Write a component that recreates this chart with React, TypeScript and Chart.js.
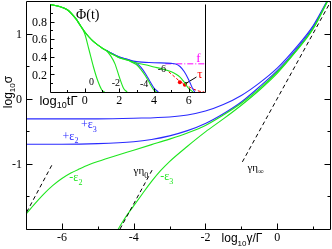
import { useEffect, useRef } from 'react';
import { Chart, registerables } from 'chart.js';

Chart.register(...registerables);

// ================= main panel: log10 σ versus log10 γ/Γ =================
const mainXMajor = [-6, -4, -2, 0];
const mainXLabels = ['-6', '-4', '-2', '0'];
const mainXMinor = [-7, -5, -3, -1, 1];
const mainYMajor = [-1, 0, 1];
const mainYLabels = ['-1', '0', '1'];
const mainYMinor = [-1.5, -0.5, 0.5];

const plusEps3X = [-7, -6, -5, -4, -3, -2.5, -2, -1.5, -1, -0.5, 0, 0.5, 1.0, 1.39];
const plusEps3Y = [-0.31, -0.31, -0.31, -0.3, -0.28, -0.25, -0.19, -0.09, 0.05, 0.24, 0.47, 0.77, 1.12, 1.5];

const plusEps2X = [-7, -6, -5, -4, -3.5, -3, -2.5, -2, -1.5, -1, -0.5, 0, 0.5, 1, 1.4];
const plusEps2Y = [-0.7, -0.7, -0.69, -0.66, -0.625, -0.57, -0.49, -0.38, -0.23, -0.05, 0.18, 0.43, 0.74, 1.1, 1.5];

const minusEps2X = [-7, -6.75, -6.5, -6.25, -6, -5.75, -5.5, -5.25, -5, -4.5, -4, -3.5, -3, -2.5, -2, -1.5, -1, -0.5, 0, 0.5, 1, 1.4];
const minusEps2Y = [-1.77, -1.61, -1.46, -1.33, -1.225, -1.14, -1.075, -1.015, -0.965, -0.875, -0.79, -0.705, -0.62, -0.525, -0.41, -0.25, -0.07, 0.15, 0.41, 0.72, 1.08, 1.5];

const minusEps3X = [-4.45, -4.25, -4, -3.75, -3.5, -3.25, -3, -2.5, -2, -1.5, -1, -0.5, 0, 0.5, 1, 1.41];
const minusEps3Y = [-2.02, -1.84, -1.645, -1.455, -1.27, -1.105, -0.965, -0.73, -0.51, -0.31, -0.1, 0.13, 0.39, 0.71, 1.07, 1.5];

const eta0LowX = [-6.98, -6.28];
const eta0LowY = [-1.74, -1.02];
const eta0X = [-4.38, -3.47];
const eta0Y = [-2.0, -1.08];
const etaInfX = [-0.97, 1.5];
const etaInfY = [-0.97, 1.5];

// ================= inset: Φ(t) versus log10 tΓ =================
const inXMajor = [0, 2, 4, 6];
const inXLabels = ['0', '2', '4', '6'];
const inXMinor = [-1, 1, 3, 5];
const inYMajor = [0.2, 0.4, 0.6, 0.8];
const inYLabels = ['0.2', '0.4', '0.6', '0.8'];
const inYMinor = [0.1, 0.3, 0.5, 0.7, 0.9];

const trunkX = [-2, -1.5, -1, -0.5, -0.25, 0, 0.25, 0.5, 0.75, 1, 1.25, 1.5, 1.75, 2, 2.5];
const trunkY = [0.995, 0.975, 0.935, 0.83, 0.755, 0.685, 0.625, 0.575, 0.535, 0.5, 0.47, 0.44, 0.415, 0.39, 0.36];

const g0TailX = [0, 0.25, 0.5, 0.75, 1.0, 1.15];
const g0TailY = [0.665, 0.48, 0.29, 0.13, 0.02, 0];
const g2TailX = [1.5, 1.75, 2.0, 2.25, 2.45];
const g2TailY = [0.41, 0.32, 0.17, 0.04, 0];
const g4TailX = [2.75, 3.0, 3.25, 3.5, 3.75, 4.0, 4.15];
const g4TailY = [0.335, 0.31, 0.255, 0.185, 0.1, 0.02, 0];
const g6TailX = [3.0, 3.5, 4, 4.5, 5, 5.25, 5.5, 5.75, 6.0, 6.25];
const g6TailY = [0.33, 0.31, 0.285, 0.26, 0.23, 0.205, 0.17, 0.11, 0.04, 0];

const b4X = [1.25, 1.5, 1.75, 2, 2.5, 2.75, 3, 3.25, 3.5, 3.75, 4, 4.25];
const b4Y = [0.475, 0.445, 0.42, 0.398, 0.368, 0.345, 0.325, 0.28, 0.21, 0.125, 0.045, 0];
const b6X = [1.25, 1.5, 1.75, 2, 2.5, 3, 4, 5, 5.25, 5.5, 5.75, 6, 6.25, 6.35];
const b6Y = [0.475, 0.445, 0.42, 0.398, 0.368, 0.345, 0.333, 0.325, 0.317, 0.29, 0.23, 0.14, 0.03, 0];

const fX = [4.65, 7];
const fY = [0.32, 0.32];
const tauLineX = [4.85, 5.2, 5.5, 5.8, 6.2, 6.6, 6.9];
const tauLineY = [0.23, 0.17, 0.12, 0.085, 0.04, 0.01, 0];
const tauPtsX = [5.49, 5.78];
const tauPtsY = [0.11, 0.082];
const arrowX = [6.45, 5.82];
const arrowY = [0.17, 0.095];

// ================= styling =================
const W = 332;
const H = 249;
const BLUE = '#2a2aff';
const GREEN = '#1ee61e';
const LW = 1.1;
const SERIF = '"Liberation Serif", "DejaVu Serif", serif';
const SANS = '"Liberation Sans", Arial, sans-serif';

type Part = [string, number];
type Note = { parts: Part[]; x: number; y: number; color: string; size: number; family: string };

const mainNotes: Note[] = [
  { parts: [['+ε', 0], ['3', 1]], x: -5.25, y: -0.385, color: BLUE, size: 12, family: SERIF },
  { parts: [['+ε', 0], ['2', 1]], x: -5.76, y: -0.565, color: BLUE, size: 12, family: SERIF },
  { parts: [['-ε', 0], ['2', 1]], x: -5.61, y: -1.2, color: GREEN, size: 12, family: SERIF },
  { parts: [['-ε', 0], ['3', 1]], x: -3.08, y: -1.19, color: GREEN, size: 12, family: SERIF },
  { parts: [['γη', 0], ['0', 1]], x: -3.8, y: -1.1, color: '#000', size: 11, family: SERIF },
  { parts: [['γη', 0], ['∞', 1]], x: -0.6, y: -1.05, color: '#000', size: 11, family: SERIF },
];

const insetNotes: Note[] = [
  { parts: [['0', 0]], x: 0.39, y: 0.115, color: '#000', size: 10, family: SERIF },
  { parts: [['-2', 0]], x: 1.8, y: 0.11, color: '#000', size: 10, family: SERIF },
  { parts: [['-4', 0]], x: 3.43, y: 0.1, color: '#000', size: 10, family: SERIF },
  { parts: [['-6', 0]], x: 4.45, y: 0.265, color: '#000', size: 10, family: SERIF },
  { parts: [['f', 0]], x: 6.56, y: 0.39, color: '#ff00ff', size: 13, family: SERIF },
  { parts: [['τ', 0]], x: 6.65, y: 0.21, color: '#ff0000', size: 13, family: SERIF },
  { parts: [['Φ(t)', 0]], x: 0.18, y: 0.88, color: '#000', size: 14, family: SERIF },
];

const pts = (xs: number[], ys: number[]) => xs.map((x, i) => ({ x, y: ys[i] }));
const withTrunk = (upTo: number, tx: number[], ty: number[]) =>
  pts(trunkX, trunkY).filter((p) => p.x <= upTo).concat(pts(tx, ty));

function drawRich(ctx: CanvasRenderingContext2D, parts: Part[], x: number, cy: number, size: number, family: string, color: string, align: string) {
  const sub = Math.round(size * 0.7);
  const widths = parts.map(([t, s]) => {
    ctx.font = `${s ? sub : size}px ${family}`;
    return ctx.measureText(t).width;
  });
  const total = widths.reduce((a, b) => a + b, 0);
  let cx = align === 'left' ? x : align === 'right' ? x - total : x - total / 2;
  const base = cy + size * 0.35;
  ctx.fillStyle = color;
  ctx.textAlign = 'left';
  ctx.textBaseline = 'alphabetic';
  parts.forEach(([t, s], i) => {
    ctx.font = `${s ? sub : size}px ${family}`;
    ctx.fillText(t, cx, s ? base + size * 0.3 : base);
    cx += widths[i];
  });
}

function line(data: { x: number; y: number }[], color: string, width: number, dash: number[] = [], smooth = true) {
  return {
    data,
    showLine: true,
    borderColor: color,
    backgroundColor: color,
    borderWidth: width,
    borderDash: dash,
    pointRadius: 0,
    fill: false,
    tension: 0,
    cubicInterpolationMode: smooth ? 'monotone' : 'default',
  } as any;
}

function seg(ctx: CanvasRenderingContext2D, x1: number, y1: number, x2: number, y2: number) {
  ctx.beginPath();
  ctx.moveTo(x1, y1);
  ctx.lineTo(x2, y2);
  ctx.stroke();
}

const mainDecor = {
  id: 'mainDecor',
  afterDraw(chart: any) {
    const { ctx, chartArea: a, scales } = chart;
    const xs = scales.x;
    const ys = scales.y;
    const L = a.left + 0.5, R = a.right - 0.5, T = a.top + 0.5, B = a.bottom + 0.5;
    ctx.save();
    ctx.strokeStyle = '#000';
    ctx.lineWidth = 1;
    ctx.setLineDash([]);
    seg(ctx, L, T, R, T);
    seg(ctx, R, T, R, B);
    seg(ctx, L, B, R, B);
    seg(ctx, L, T, L, B);
    const yTick = (v: number, len: number) => {
      const p = Math.round(ys.getPixelForValue(v)) + 0.5;
      seg(ctx, L, p, L + len, p);
      seg(ctx, R, p, R - len, p);
    };
    const xTick = (v: number, len: number) => {
      const p = Math.round(xs.getPixelForValue(v)) + 0.5;
      seg(ctx, p, B, p, B - len);
    };
    mainYMajor.forEach((v) => yTick(v, 6));
    mainYMinor.forEach((v) => yTick(v, 3));
    mainXMajor.forEach((v) => xTick(v, 6));
    mainXMinor.forEach((v) => xTick(v, 3));
    mainYMajor.forEach((v, i) => drawRich(ctx, [[mainYLabels[i], 0]], a.left - 4, ys.getPixelForValue(v), 12, SERIF, '#000', 'right'));
    mainXMajor.forEach((v, i) => drawRich(ctx, [[mainXLabels[i], 0]], xs.getPixelForValue(v), a.bottom + 8, 12, SERIF, '#000', 'center'));
    drawRich(ctx, [['log', 0], ['10', 1], ['γ/Γ', 0]], 242, 238, 12, SANS, '#000', 'center');
    ctx.save();
    ctx.translate(7.5, 92);
    ctx.rotate(-Math.PI / 2);
    drawRich(ctx, [['log', 0], ['10', 1], ['σ', 0]], 0, 0, 12, SANS, '#000', 'center');
    ctx.restore();
    mainNotes.forEach((n) => drawRich(ctx, n.parts, xs.getPixelForValue(n.x), ys.getPixelForValue(n.y), n.size, n.family, n.color, 'center'));
    ctx.restore();
  },
};

const insetDecor = {
  id: 'insetDecor',
  beforeDatasetsDraw(chart: any) {
    const { ctx, chartArea: a } = chart;
    ctx.save();
    ctx.fillStyle = '#fff';
    ctx.fillRect(a.left, a.top, a.right - a.left, a.bottom - a.top);
    ctx.restore();
  },
  afterDraw(chart: any) {
    const { ctx, chartArea: a, scales } = chart;
    const xs = scales.x;
    const ys = scales.y;
    const L = a.left + 0.5, R = a.right - 0.5, T = a.top + 0.5, B = a.bottom + 0.5;
    ctx.save();
    ctx.strokeStyle = '#000';
    ctx.lineWidth = 1;
    ctx.setLineDash([]);
    seg(ctx, L, T, L, B);
    seg(ctx, L, B, R, B);
    seg(ctx, R, T, R, B);
    const yTick = (v: number, len: number) => {
      const p = Math.round(ys.getPixelForValue(v)) + 0.5;
      seg(ctx, L, p, L + len, p);
    };
    const xTick = (v: number, len: number) => {
      const p = Math.round(xs.getPixelForValue(v)) + 0.5;
      seg(ctx, p, B, p, B - len);
    };
    inYMajor.forEach((v) => yTick(v, 4));
    inYMinor.forEach((v) => yTick(v, 2.5));
    inXMajor.forEach((v) => xTick(v, 4));
    inXMinor.forEach((v) => xTick(v, 2.5));
    inYMajor.forEach((v, i) => drawRich(ctx, [[inYLabels[i], 0]], a.left - 3, ys.getPixelForValue(v), 12, SERIF, '#000', 'right'));
    inXMajor.forEach((v, i) => drawRich(ctx, [[inXLabels[i], 0]], xs.getPixelForValue(v), a.bottom + 8, 12, SERIF, '#000', 'center'));
    drawRich(ctx, [['log', 0], ['10', 1], ['tΓ', 0]], 58.5, 100, 13, SANS, '#000', 'center');
    insetNotes.forEach((n) => drawRich(ctx, n.parts, xs.getPixelForValue(n.x), ys.getPixelForValue(n.y), n.size, n.family, n.color, 'center'));
    ctx.restore();
  },
};

function baseOptions(xmin: number, xmax: number, ymin: number, ymax: number, padding: any) {
  return {
    responsive: false,
    maintainAspectRatio: false,
    animation: false,
    devicePixelRatio: 1,
    events: [],
    layout: { padding },
    plugins: { legend: { display: false }, tooltip: { enabled: false } },
    scales: {
      x: { type: 'linear', min: xmin, max: xmax, display: false },
      y: { type: 'linear', min: ymin, max: ymax, display: false },
    },
  } as any;
}

export default function App() {
  const mainRef = useRef<HTMLCanvasElement>(null);
  const insetRef = useRef<HTMLCanvasElement>(null);

  useEffect(() => {
    const main = new Chart(mainRef.current as HTMLCanvasElement, {
      type: 'scatter',
      data: {
        datasets: [
          line(pts(eta0LowX, eta0LowY), '#000', 1, [4, 3], false),
          line(pts(eta0X, eta0Y), '#000', 1, [4, 3], false),
          line(pts(etaInfX, etaInfY), '#000', 1, [4, 3], false),
          line(pts(minusEps3X, minusEps3Y), GREEN, LW),
          line(pts(minusEps2X, minusEps2Y), GREEN, LW),
          line(pts(plusEps2X, plusEps2Y), BLUE, LW),
          line(pts(plusEps3X, plusEps3Y), BLUE, LW),
        ],
      },
      options: baseOptions(-7, 1.5, -2, 1.5, { left: 26, right: 1, top: 1, bottom: 20 }),
      plugins: [mainDecor],
    });

    const inset = new Chart(insetRef.current as HTMLCanvasElement, {
      type: 'scatter',
      data: {
        datasets: [
          line(withTrunk(-0.25, g0TailX, g0TailY), GREEN, LW),
          line(withTrunk(1.25, g2TailX, g2TailY), GREEN, LW),
          line(withTrunk(2.5, g4TailX, g4TailY), GREEN, LW),
          line(withTrunk(2.5, g6TailX, g6TailY), GREEN, LW),
          line(pts(b4X, b4Y), BLUE, LW),
          line(pts(b6X, b6Y), BLUE, LW),
          line(pts(fX, fY), '#ff00ff', 1, [6, 2, 1, 2], false),
          line(pts(tauLineX, tauLineY), '#ff0000', 1, [3, 2]),
          {
            data: pts(tauPtsX, tauPtsY),
            showLine: false,
            pointRadius: 2,
            pointBackgroundColor: '#ff0000',
            pointBorderColor: '#ff0000',
            pointBorderWidth: 0,
          } as any,
          {
            ...line(pts(arrowX, arrowY), '#000', 1, [], false),
            pointRadius: [0, 1.6],
            pointBackgroundColor: '#000',
            pointBorderWidth: 0,
          },
        ],
      },
      options: baseOptions(-2, 7, 0, 1, { left: 50, right: 126, top: 1, bottom: 157 }),
      plugins: [insetDecor],
    });

    return () => {
      main.destroy();
      inset.destroy();
    };
  }, []);

  return (
    <div style={{ position: 'fixed', left: 0, top: 0, width: W, height: H, background: '#fff' }}>
      <canvas ref={mainRef} width={W} height={H} style={{ position: 'absolute', left: 0, top: 0, width: W, height: H }} />
      <canvas ref={insetRef} width={W} height={H} style={{ position: 'absolute', left: 0, top: 0, width: W, height: H }} />
    </div>
  );
}
